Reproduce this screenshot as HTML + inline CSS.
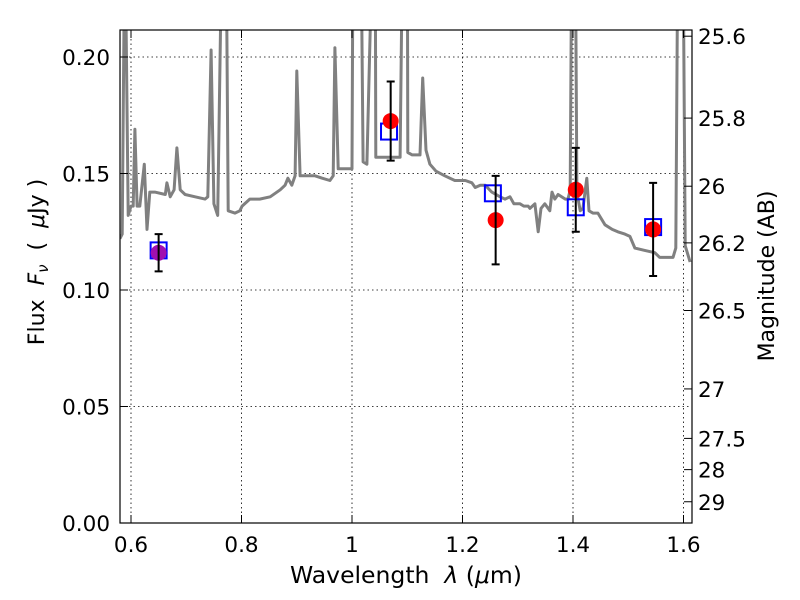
<!DOCTYPE html>
<html><head><meta charset="utf-8"><style>
body{margin:0;background:#fff}
svg{display:block;font-family:"DejaVu Sans","Liberation Sans",sans-serif}
</style></head><body>
<svg id="chart" width="800" height="600" viewBox="0 0 800 600">
<defs><clipPath id="clip"><rect x="120" y="30" width="572" height="493"/></clipPath></defs>
<g id="grid"></g>
<g id="spec" clip-path="url(#clip)"></g>
<g id="pts"></g>
<rect x="120" y="30" width="572" height="493" fill="none" stroke="#000" stroke-width="1.2"/>
<g id="axes"></g>
<text x="406" y="583" font-size="23.5" text-anchor="middle" xml:space="preserve">Wavelength  <tspan font-style="italic">λ</tspan> (<tspan font-style="italic">μ</tspan>m)</text>
<text transform="translate(44,262) rotate(-90)" font-size="22" text-anchor="middle" xml:space="preserve">Flux  <tspan font-style="italic">F</tspan><tspan font-style="italic" font-size="15" dy="4">ν</tspan><tspan dy="-4">  (  </tspan><tspan font-style="italic">μ</tspan>Jy )</text>
<text transform="translate(774,276) rotate(-90)" font-size="22" text-anchor="middle">Magnitude (AB)</text>
</svg>
<script>
const specWave=[0.580,0.584,0.589,0.595,0.600,0.604,0.607,0.611,0.616,0.624,0.629,0.634,0.643,0.662,0.665,0.671,0.678,0.683,0.689,0.698,0.716,0.734,0.739,0.745,0.750,0.757,0.765,0.772,0.776,0.788,0.797,0.801,0.815,0.833,0.852,0.870,0.879,0.884,0.891,0.897,0.900,0.906,0.915,0.933,0.946,0.960,0.966,0.969,0.975,0.987,1.000,1.002,1.016,1.020,1.027,1.038,1.042,1.043,1.060,1.087,1.092,1.100,1.101,1.109,1.123,1.128,1.134,1.141,1.152,1.168,1.186,1.205,1.217,1.223,1.232,1.241,1.253,1.268,1.277,1.286,1.293,1.304,1.311,1.319,1.322,1.331,1.337,1.342,1.349,1.358,1.362,1.367,1.373,1.386,1.391,1.395,1.398,1.404,1.407,1.413,1.418,1.425,1.429,1.436,1.445,1.458,1.471,1.481,1.494,1.503,1.512,1.530,1.548,1.557,1.566,1.581,1.586,1.590,1.599,1.603,1.612];
const specFlux=[0.122,0.124,0.26,0.132,0.136,0.136,0.169,0.136,0.136,0.154,0.126,0.142,0.142,0.141,0.146,0.140,0.143,0.161,0.143,0.141,0.140,0.139,0.140,0.203,0.137,0.132,0.26,0.26,0.134,0.133,0.134,0.136,0.139,0.139,0.140,0.143,0.145,0.148,0.145,0.149,0.194,0.149,0.149,0.149,0.148,0.147,0.149,0.204,0.152,0.152,0.152,0.26,0.26,0.155,0.154,0.26,0.26,0.157,0.157,0.157,0.26,0.26,0.159,0.158,0.158,0.191,0.160,0.154,0.151,0.149,0.147,0.147,0.146,0.144,0.145,0.145,0.142,0.140,0.139,0.140,0.137,0.137,0.136,0.136,0.135,0.137,0.125,0.135,0.137,0.134,0.142,0.139,0.141,0.139,0.139,0.143,0.26,0.26,0.142,0.134,0.135,0.148,0.134,0.133,0.133,0.128,0.126,0.125,0.124,0.123,0.118,0.117,0.116,0.114,0.114,0.114,0.118,0.26,0.26,0.119,0.112];
const modelWave=[0.65,1.067,1.255,1.405,1.545];
const modelFlux=[0.117,0.168,0.1415,0.1355,0.127];
const obsWave=[0.65,1.07,1.26,1.405,1.545];
const obsFlux=[0.116,0.1725,0.130,0.143,0.126];
const obsErr=[0.008,0.017,0.019,0.018,0.020];
const xTicks=[0.6,0.8,1.0,1.2,1.4,1.6];
const xTickLabels=["0.6","0.8","1","1.2","1.4","1.6"];
const yTicks=[0,0.05,0.10,0.15,0.20];
const yTickLabels=["0.00","0.05","0.10","0.15","0.20"];
const magTicks=[25.6,25.8,26,26.2,26.5,27,27.5,28,29];
const magTickLabels=["25.6","25.8","26","26.2","26.5","27","27.5","28","29"];

const NS="http://www.w3.org/2000/svg";
const X=v=>131+(v-0.6)*552.5;
const Y=v=>523-v*2330;
const M=m=>Y(Math.pow(10,(23.9-m)/2.5));
function mk(tag,attrs,parent,txt){const e=document.createElementNS(NS,tag);for(const k in attrs)e.setAttribute(k,attrs[k]);if(txt!==undefined)e.textContent=txt;parent.appendChild(e);return e;}
const grid=document.getElementById('grid'),axes=document.getElementById('axes'),spec=document.getElementById('spec'),pts=document.getElementById('pts');

xTicks.forEach((t,i)=>{const x=X(t);
 const g=mk('line',{x1:x,x2:x,y1:30,y2:523,stroke:'#000','stroke-dasharray':'1.5,3','stroke-width':0.8},grid);
 
 mk('line',{x1:x,x2:x,y1:523,y2:515,stroke:'#000'},axes);
 mk('line',{x1:x,x2:x,y1:30,y2:38,stroke:'#000'},axes);
 const l=mk('text',{x:x,y:552,'font-size':21.5,'text-anchor':'middle'},axes,xTickLabels[i]);
 });
yTicks.forEach((t,i)=>{const y=Y(t);
 const g=mk('line',{x1:120,x2:692,y1:y,y2:y,stroke:'#000','stroke-dasharray':'1.5,3','stroke-width':0.8},grid);
 
 mk('line',{x1:120,x2:128,y1:y,y2:y,stroke:'#000'},axes);
 const l=mk('text',{x:110,y:y+8,'font-size':21.5,'text-anchor':'end'},axes,yTickLabels[i]);
 });
magTicks.forEach((m,i)=>{const y=M(m);
 mk('line',{x1:684,x2:692,y1:y,y2:y,stroke:'#000'},axes);
 const l=mk('text',{x:698,y:y+8,'font-size':21.5},axes,magTickLabels[i]);
 });

const d=specWave.map((w,i)=>(i?'L':'M')+X(w).toFixed(1)+','+Y(specFlux[i]).toFixed(1)).join('');
const p=mk('path',{d:d,fill:'none',stroke:'#808080','stroke-width':3,'stroke-linejoin':'round'},spec);


modelWave.forEach((w,i)=>{const x=X(w),y=Y(modelFlux[i]);
 const r=mk('rect',{x:x-8,y:y-8,width:16,height:16,fill:'none',stroke:'#0000ff','stroke-width':2},pts);
 });
obsWave.forEach((w,i)=>{const x=X(w),y=Y(obsFlux[i]),y1=Y(obsFlux[i]-obsErr[i]),y2=Y(obsFlux[i]+obsErr[i]);
 const c=mk('circle',{cx:x,cy:y,r:8,fill:i===0?'#a010b0':'#ff0000'},pts);
 
 const e=mk('path',{d:`M${x},${y1}L${x},${y2}M${x-4},${y1}L${x+4},${y1}M${x-4},${y2}L${x+4},${y2}`,stroke:'#000','stroke-width':2,fill:'none'},pts);
 });
</script>
</body></html>
